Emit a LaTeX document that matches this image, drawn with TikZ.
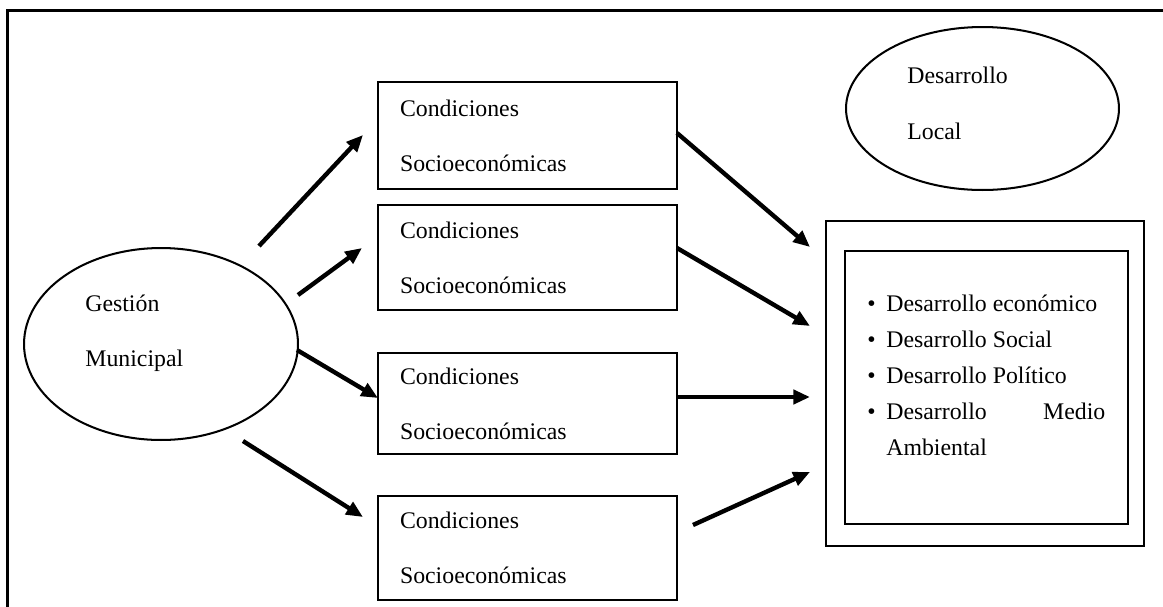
\documentclass[tikz,border=0pt]{standalone}
\usepackage{fontspec}
\setmainfont{Liberation Serif}
\usetikzlibrary{arrows.meta, shapes.geometric}
\newcommand{\letra}{\fontsize{13.55}{31.3}\selectfont}
\newcommand{\letralista}{\fontsize{13.55}{20.5}\selectfont}
\hyphenpenalty=10000
\tikzset{>={Triangle[length=9.5pt,width=8pt]}}

\begin{document}
\begin{tikzpicture}[x=0.02cm, y=-0.02cm,
		caja/.style={draw, line width=1.3pt, rectangle, inner xsep=0.44cm, inner ysep=0pt, minimum width=5.98cm, text width=5.1cm, align=left, font=\letra},
		elipse/.style={draw, line width=1.15pt, ellipse, inner sep=0pt},
		texto/.style={anchor=base west, inner sep=0pt, font=\letra},
		flecha/.style={->, line width=2.5pt}]

				\useasboundingbox (0,0) rectangle (1163,606);
				\clip (0,0) rectangle (1163,606);
				\draw [line width=1.4pt] (7.5,10.5) rectangle (1180,630);

				% left ellipse
				\node [elipse, minimum width=5.48cm, minimum height=3.84cm] (gestion) at (161,344) {};
				\node [texto] (gestion1) at (85,311) {Gestión};
				\node [texto] (gestion2) at (85,366) {Municipal};

				% middle boxes
				\node [caja, minimum height=2.14cm] (cond1) at (527.5,135.5) {Condiciones\\Socioeconómicas};
				\node [caja, minimum height=2.1cm] (cond2) at (527.5,257.5) {Condiciones\\Socioeconómicas};
				\node [caja, minimum height=2.02cm] (cond3) at (527.5,403.5) {Condiciones\\Socioeconómicas};
				\node [caja, minimum height=2.08cm] (cond4) at (527.5,548) {Condiciones\\Socioeconómicas};

				% top right ellipse
				\node [elipse, minimum width=5.46cm, minimum height=3.26cm] (local) at (982.5,108.5) {};
				\node [texto] (local1) at (907,83) {Desarrollo};
				\node [texto] (local2) at (907,139) {Local};

				% double box
				\node [draw, line width=1.3pt, minimum width=6.36cm, minimum height=6.5cm] (marco) at (985,383.5) {};
				\node [draw, line width=1.3pt, minimum width=5.66cm, minimum height=5.46cm] (dentro) at (986.5,387.5) {};
				\node [anchor=north west, inner sep=0pt, text width=4.38cm, align=justify, font=\letralista] (lista) at (886,295) {%
					\llap{\textbullet\hspace{6pt}}Desarrollo económico\\
					\llap{\textbullet\hspace{6pt}}Desarrollo Social\\
					\llap{\textbullet\hspace{6pt}}Desarrollo Político\\
					\llap{\textbullet\hspace{6pt}}Desarrollo Medio Ambiental};

				% arrow ends
				\coordinate (s1) at (259,246); \coordinate (t1) at (363,135);
				\coordinate (s2) at (298,295); \coordinate (t2) at (362,248);
				\coordinate (s3) at (297,350); \coordinate (t3) at (378,398);
				\coordinate (s4) at (243,441); \coordinate (t4) at (363,517);
				\coordinate (u1) at (677,133); \coordinate (v1) at (810,247);
				\coordinate (u2) at (677,248); \coordinate (v2) at (810,326);
				\coordinate (u3) at (677,397); \coordinate (v3) at (810,397);
				\coordinate (u4) at (693,525); \coordinate (v4) at (810,472);

				\draw [flecha] (s1) -- (t1);
				\draw [flecha] (s2) -- (t2);
				\draw [flecha] (s3) -- (t3);
				\draw [flecha] (s4) -- (t4);
				\draw [flecha] (u1) -- (v1);
				\draw [flecha] (u2) -- (v2);
				\draw [flecha] (u3) -- (v3);
				\draw [flecha] (u4) -- (v4);
\end{tikzpicture}
\end{document}
